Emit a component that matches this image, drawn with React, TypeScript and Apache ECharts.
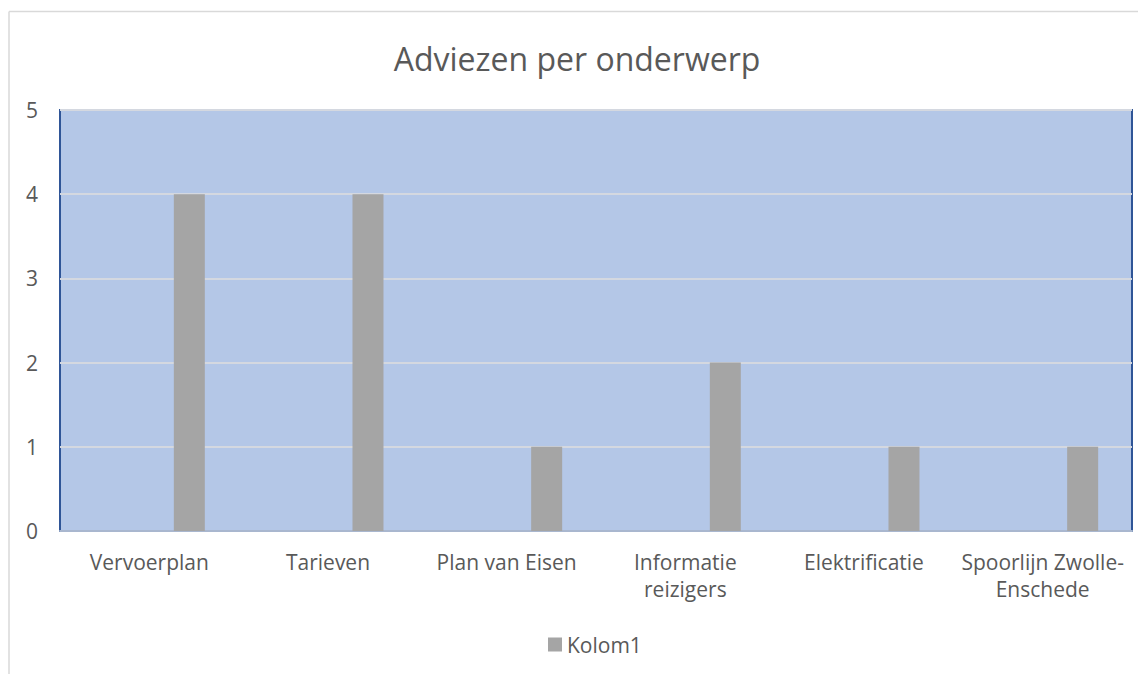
import React, { useEffect, useRef } from "react";
import * as echarts from "echarts";

const categories = [
  "Vervoerplan",
  "Tarieven",
  "Plan van Eisen",
  "Informatie\nreizigers",
  "Elektrificatie",
  "Spoorlijn Zwolle-\nEnschede",
];
const emptySeries: (number | null)[] = [null, null, null, null, null, null];
const kolom1 = [4, 4, 1, 2, 1, 1];
const yTicks = { min: 0, max: 5, interval: 1 };

const FONT = "Open Sans";
const TXT = "#595959";

export default function App() {
  const ref = useRef<HTMLDivElement>(null);
  useEffect(() => {
    if (!ref.current) return;
    const chart = echarts.init(ref.current, undefined, { renderer: "svg" });
    chart.setOption({
      animation: false,
      textStyle: { fontFamily: FONT },
      title: {
        text: "Adviezen per onderwerp",
        left: "center",
        top: 29,
        textStyle: { fontFamily: FONT, fontSize: 32, fontWeight: "normal", color: TXT },
      },
      legend: {
        data: ["Kolom1"],
        bottom: 14,
        left: 535,
        icon: "rect",
        itemWidth: 14,
        itemHeight: 14,
        itemGap: 6,
        textStyle: { fontFamily: FONT, fontSize: 21, color: TXT },
      },
      grid: {
        left: 52,
        top: 102,
        right: 14,
        bottom: 143,
        show: true,
        backgroundColor: "#B4C7E7",
        borderColor: "#2F5597",
        borderWidth: 2,
        containLabel: false,
      },
      xAxis: {
        type: "category",
        data: categories,
        axisLine: { show: true, lineStyle: { color: "#A9B7CF", width: 2 } },
        axisTick: { show: false },
        axisLabel: {
          fontFamily: FONT,
          fontSize: 21,
          color: TXT,
          margin: 17,
          lineHeight: 27,
          interval: 0,
        },
      },
      yAxis: {
        type: "value",
        min: yTicks.min,
        max: yTicks.max,
        interval: yTicks.interval,
        axisLine: { show: false },
        axisTick: { show: false },
        splitLine: { lineStyle: { color: "#D4D8E0", width: 2 } },
        axisLabel: { fontFamily: FONT, fontSize: 21, color: TXT, margin: 22 },
      },
      graphic: [
        {
          type: "line",
          shape: { x1: 1, y1: 3.5, x2: 1146, y2: 3.5 },
          style: { stroke: "#D9D9D9", lineWidth: 1.5 },
          silent: true,
        },
        {
          type: "line",
          shape: { x1: 1, y1: 3.5, x2: 1, y2: 670 },
          style: { stroke: "#D9D9D9", lineWidth: 1.5 },
          silent: true,
        },
      ],
      series: [
        {
          name: "leeg",
          type: "bar",
          data: emptySeries,
          barWidth: 31,
          barGap: "158%",
          itemStyle: { color: "#4472C4" },
        },
        {
          name: "Kolom1",
          type: "bar",
          data: kolom1,
          barWidth: 31,
          barGap: "158%",
          itemStyle: { color: "#A5A5A5" },
        },
      ],
    });
    return () => chart.dispose();
  }, []);
  return <div ref={ref} style={{ width: 1138, height: 666 }} />;
}
